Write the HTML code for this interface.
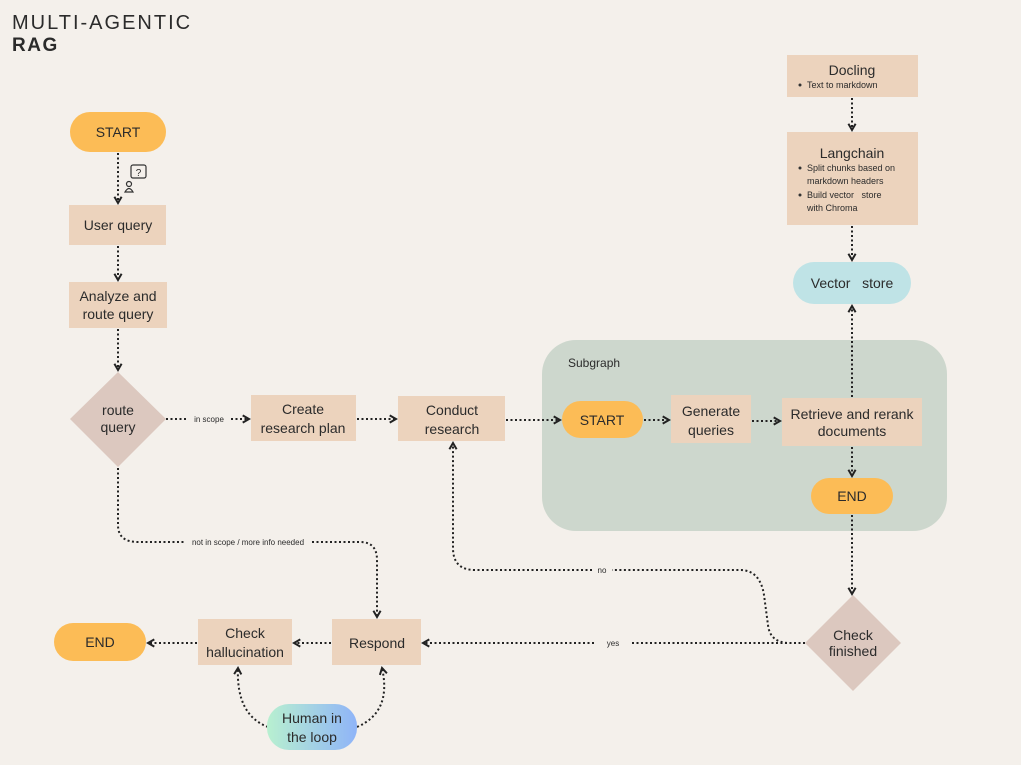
<!DOCTYPE html>
<html><head><meta charset="utf-8"><style>
html,body{margin:0;padding:0;background:#f4f0eb;}
svg{display:block}
text{font-family:"Liberation Sans",sans-serif;fill:#2b2b2b}
</style></head><body>
<svg width="1021" height="765" viewBox="0 0 1021 765" xmlns="http://www.w3.org/2000/svg">
<defs>
<marker id="a" viewBox="0 0 10 10" refX="8" refY="5" markerWidth="9" markerHeight="9" orient="auto-start-reverse" markerUnits="userSpaceOnUse">
<path d="M1,1 L8,5 L1,9" fill="none" stroke="#222" stroke-width="2.2"/></marker>
<linearGradient id="g" x1="0" x2="1" y1="0" y2="0"><stop offset="0" stop-color="#b8f0d0"/><stop offset="1" stop-color="#8fb4f8"/></linearGradient>
</defs>
<rect width="1021" height="765" fill="#f4f0eb"/>
<text x="12" y="29" font-size="20" letter-spacing="2" fill="#333">MULTI-AGENTIC</text>
<text x="12" y="51" font-size="19" font-weight="bold" letter-spacing="1.5" fill="#333">RAG</text>

<rect x="542" y="340" width="405" height="191" rx="34" fill="#cdd7cd"/>
<text x="568" y="367" font-size="12">Subgraph</text>

<g fill="none" stroke="#222" stroke-width="2" stroke-dasharray="2 2.5" marker-end="url(#a)">
<path d="M118 153 V203"/>
<path d="M118 246 V280"/>
<path d="M118 329 V370"/>
<path d="M166 419 H187 M231 419 H249"/>
<path d="M357 419 H396"/>
<path d="M506 420 H560"/>
<path d="M644 420 H669"/>
<path d="M752 421 H780"/>
<path d="M852 447 V476"/>
<path d="M852 397 V306"/>
<path d="M852 98 V130"/>
<path d="M852 226 V260"/>
<path d="M852 515 V594"/>
<path d="M805 643 H632 M594 643 H423"/>
<path d="M805 643 H790 Q770 643 768 625 L764 595 Q760 570 740 570 H612 M592 570 H475 Q453 570 453 548 V443"/>
<path d="M118 468 V525 Q118 542 138 542 H184 M312 542 H360 Q377 542 377 560 V617"/>
<path d="M331 643 H294"/>
<path d="M197 643 H148"/>
<path d="M268 727 Q236 715 238 668"/>
<path d="M357 727 Q392 712 382 668"/>
</g>
<g font-size="8" text-anchor="middle">
<text x="209" y="422">in scope</text>
<text x="248" y="545">not in scope / more info needed</text>
<text x="602" y="573">no</text>
<text x="613" y="646">yes</text>
</g>

<g font-size="14" text-anchor="middle">
<rect x="70" y="112" width="96" height="40" rx="20" fill="#fcbc56"/><text x="118" y="137">START</text>
<rect x="69" y="205" width="97" height="40" fill="#ecd3bd"/><text x="118" y="230">User query</text>
<rect x="69" y="282" width="98" height="46" fill="#ecd3bd"/><text x="118" y="301">Analyze and</text><text x="118" y="319">route query</text>
<polygon points="118,372 166,419 118,467 70,419" fill="#dcc8bf"/><text x="118" y="415">route</text><text x="118" y="432">query</text>
<rect x="251" y="395" width="105" height="46" fill="#ecd3bd"/><text x="303" y="414">Create</text><text x="303" y="433">research plan</text>
<rect x="398" y="396" width="107" height="45" fill="#ecd3bd"/><text x="452" y="415">Conduct</text><text x="452" y="434">research</text>
<rect x="562" y="401" width="81" height="37" rx="18.5" fill="#fcbc56"/><text x="602" y="425">START</text>
<rect x="671" y="395" width="80" height="48" fill="#ecd3bd"/><text x="711" y="416">Generate</text><text x="711" y="435">queries</text>
<rect x="782" y="398" width="140" height="48" fill="#ecd3bd"/><text x="852" y="419">Retrieve and rerank</text><text x="852" y="436">documents</text>
<rect x="811" y="478" width="82" height="36" rx="18" fill="#fcbc56"/><text x="852" y="501">END</text>
<rect x="787" y="55" width="131" height="42" fill="#ecd3bd"/><text x="852" y="75">Docling</text>
<rect x="787" y="132" width="131" height="93" fill="#ecd3bd"/><text x="852" y="158">Langchain</text>
<rect x="793" y="262" width="118" height="42" rx="21" fill="#bfe3e6"/><text x="852" y="288">Vector&#160;&#160; store</text>
<polygon points="853,595 901,643 853,691 805,643" fill="#dcc8bf"/><text x="853" y="640">Check</text><text x="853" y="656">finished</text>
<rect x="332" y="619" width="89" height="46" fill="#ecd3bd"/><text x="377" y="648">Respond</text>
<rect x="198" y="619" width="94" height="46" fill="#ecd3bd"/><text x="245" y="638">Check</text><text x="245" y="657">hallucination</text>
<rect x="54" y="623" width="92" height="38" rx="19" fill="#fcbc56"/><text x="100" y="647">END</text>
<rect x="267" y="704" width="90" height="46" rx="22" fill="url(#g)"/><text x="312" y="723">Human in</text><text x="312" y="742">the loop</text>
</g>
<g font-size="9" fill="#444">
<circle cx="800" cy="85" r="1.5" fill="#333"/><text x="807" y="88">Text to markdown</text>
<circle cx="800" cy="168" r="1.5" fill="#333"/><text x="807" y="171">Split chunks based on</text><text x="807" y="184">markdown headers</text>
<circle cx="800" cy="195" r="1.5" fill="#333"/><text x="807" y="198">Build vector&#160;&#160; store</text><text x="807" y="211">with Chroma</text>
</g>
<g fill="none" stroke="#333" stroke-width="1.2">
<rect x="131" y="165" width="15" height="13" rx="2"/>
<text x="138.5" y="176" font-size="10" text-anchor="middle" stroke="none" fill="#333">?</text>
<circle cx="129" cy="184" r="2.5"/>
<path d="M125 192 Q129 185 133 192 Z"/>
</g>
</svg>
</body></html>
